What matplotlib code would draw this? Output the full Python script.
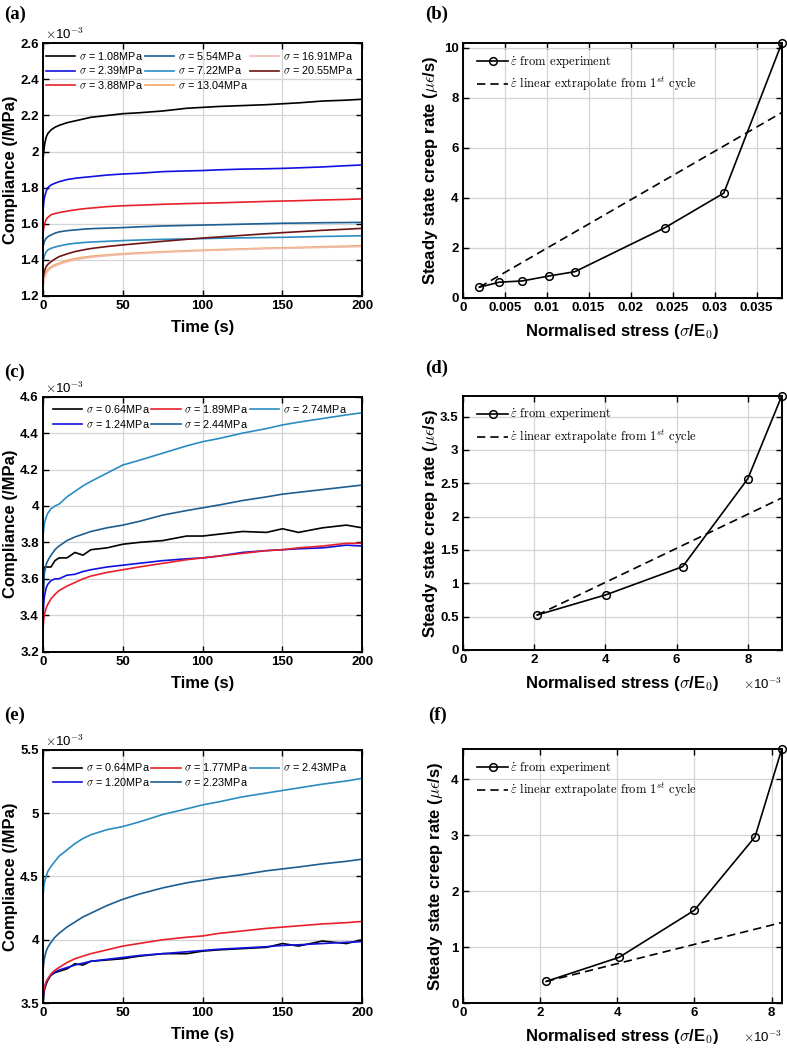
import matplotlib
matplotlib.use("Agg")
import matplotlib.pyplot as plt
from matplotlib.ticker import FuncFormatter
import numpy as np

plt.rcParams['font.family'] = ['Liberation Sans', 'DejaVu Sans']
plt.rcParams['mathtext.fontset'] = 'cm'

# ---------------- data ----------------
# time samples (s) shared by the compliance curves
t = [0, 0.5, 1, 2, 3, 5, 7.5, 10, 15, 20, 25, 30, 40, 50, 60, 75, 90, 100,
     110, 125, 140, 150, 160, 175, 190, 200]

# panel (a) compliance, x1e-3 /MPa
a_labels = ['1.08', '2.39', '3.88', '5.54', '7.22', '13.04', '16.91', '20.55']
a_colors = ['#000000', '#1010e0', '#e8202a', '#1c5e92', '#2b8cc0',
            '#f0a860', '#f0bcae', '#6e1414']
a_1_08 = [1.96, 2.00, 2.04, 2.08, 2.10, 2.12, 2.135, 2.145, 2.16, 2.17, 2.18, 2.19, 2.20,
          2.21, 2.215, 2.225, 2.24, 2.245, 2.25, 2.255, 2.26, 2.265, 2.27, 2.28, 2.285, 2.29]
a_2_39 = [1.67, 1.72, 1.75, 1.78, 1.80, 1.815, 1.825, 1.833, 1.845, 1.852, 1.857, 1.861, 1.87,
          1.876, 1.88, 1.889, 1.893, 1.895, 1.899, 1.903, 1.905, 1.907, 1.91, 1.915, 1.922, 1.926]
a_3_88 = [1.55, 1.58, 1.60, 1.625, 1.635, 1.65, 1.657, 1.662, 1.67, 1.677, 1.683, 1.687, 1.695,
          1.70, 1.703, 1.708, 1.712, 1.714, 1.716, 1.72, 1.724, 1.726, 1.728, 1.732, 1.735, 1.738]
a_5_54 = [1.47, 1.49, 1.505, 1.52, 1.528, 1.538, 1.548, 1.555, 1.562, 1.566, 1.57, 1.573, 1.576,
          1.579, 1.583, 1.588, 1.591, 1.593, 1.595, 1.598, 1.601, 1.603, 1.604, 1.606, 1.607, 1.608]
a_7_22 = [1.39, 1.41, 1.425, 1.445, 1.455, 1.464, 1.471, 1.477, 1.486, 1.492, 1.496, 1.499, 1.503,
          1.507, 1.51, 1.514, 1.516, 1.518, 1.52, 1.522, 1.524, 1.525, 1.527, 1.53, 1.532, 1.534]
a_13_04 = [1.265, 1.29, 1.31, 1.335, 1.347, 1.362, 1.373, 1.381, 1.397, 1.407, 1.414, 1.42, 1.428,
           1.434, 1.439, 1.445, 1.451, 1.454, 1.457, 1.461, 1.465, 1.467, 1.469, 1.473, 1.476, 1.479]
a_16_91 = [1.25, 1.28, 1.30, 1.325, 1.338, 1.354, 1.366, 1.375, 1.39, 1.40, 1.408, 1.414, 1.423,
           1.43, 1.435, 1.442, 1.448, 1.451, 1.454, 1.458, 1.462, 1.464, 1.466, 1.469, 1.472, 1.474]
a_20_55 = [1.29, 1.32, 1.34, 1.363, 1.375, 1.39, 1.405, 1.418, 1.433, 1.446, 1.455, 1.463, 1.474,
           1.483, 1.491, 1.503, 1.514, 1.521, 1.527, 1.536, 1.545, 1.551, 1.556, 1.564, 1.57, 1.575]

# panel (c)
c_labels = ['0.64', '1.24', '1.89', '2.44', '2.74']
c_colors = ['#000000', '#1010e0', '#e8202a', '#1c5e92', '#2b8cc0']
c_0_64 = [3.45, 3.60, 3.665, 3.665, 3.665, 3.665, 3.70, 3.715, 3.715, 3.745, 3.73, 3.76, 3.77,
          3.79, 3.80, 3.81, 3.835, 3.835, 3.845, 3.86, 3.855, 3.875, 3.855, 3.88, 3.895, 3.88]
c_1_24 = [3.38, 3.47, 3.51, 3.55, 3.57, 3.59, 3.60, 3.60, 3.62, 3.625, 3.64, 3.65, 3.665,
          3.675, 3.685, 3.70, 3.71, 3.715, 3.725, 3.745, 3.755, 3.76, 3.765, 3.77, 3.785, 3.78]
c_1_89 = [3.32, 3.38, 3.41, 3.44, 3.46, 3.49, 3.515, 3.535, 3.56, 3.58, 3.60, 3.615, 3.635,
          3.65, 3.665, 3.685, 3.705, 3.715, 3.725, 3.74, 3.755, 3.76, 3.77, 3.78, 3.795, 3.795]
c_2_44 = [3.50, 3.60, 3.64, 3.68, 3.70, 3.73, 3.76, 3.78, 3.81, 3.83, 3.845, 3.86, 3.88,
          3.895, 3.915, 3.95, 3.975, 3.99, 4.005, 4.03, 4.05, 4.065, 4.075, 4.09, 4.105, 4.115]
c_2_74 = [3.83, 3.88, 3.91, 3.94, 3.96, 3.985, 4.00, 4.01, 4.05, 4.08, 4.11, 4.135, 4.18,
          4.225, 4.25, 4.29, 4.33, 4.353, 4.37, 4.40, 4.425, 4.445, 4.46, 4.48, 4.50, 4.512]

# panel (e)
e_labels = ['0.64', '1.20', '1.77', '2.23', '2.43']
e_colors = ['#000000', '#1010e0', '#e8202a', '#1c5e92', '#2b8cc0']
e_0_64 = [3.50, 3.57, 3.61, 3.65, 3.68, 3.72, 3.74, 3.75, 3.77, 3.81, 3.80, 3.83, 3.84,
          3.85, 3.87, 3.89, 3.89, 3.91, 3.92, 3.93, 3.94, 3.97, 3.95, 3.99, 3.97, 4.00]
e_1_20 = [3.50, 3.58, 3.62, 3.66, 3.69, 3.72, 3.745, 3.76, 3.78, 3.80, 3.815, 3.83, 3.845,
          3.86, 3.875, 3.89, 3.905, 3.915, 3.925, 3.935, 3.945, 3.955, 3.96, 3.97, 3.98, 3.985]
e_1_77 = [3.55, 3.60, 3.63, 3.67, 3.69, 3.73, 3.76, 3.78, 3.82, 3.85, 3.87, 3.89, 3.92,
          3.95, 3.97, 4.00, 4.02, 4.03, 4.05, 4.07, 4.09, 4.10, 4.11, 4.125, 4.135, 4.145]
e_2_23 = [3.75, 3.82, 3.86, 3.91, 3.94, 3.98, 4.02, 4.05, 4.10, 4.14, 4.18, 4.21, 4.27,
          4.32, 4.36, 4.41, 4.45, 4.47, 4.49, 4.515, 4.545, 4.56, 4.575, 4.60, 4.62, 4.637]
e_2_43 = [4.35, 4.42, 4.46, 4.50, 4.54, 4.58, 4.62, 4.66, 4.71, 4.76, 4.80, 4.83, 4.87,
          4.895, 4.93, 4.99, 5.035, 5.066, 5.09, 5.13, 5.16, 5.18, 5.20, 5.23, 5.255, 5.276]

# panels (b), (d), (f): normalised stress vs steady state creep rate
b_stress = [0.00198, 0.00436, 0.0071, 0.0103, 0.01337, 0.0241, 0.0311, 0.038]
b_rate = [0.42, 0.62, 0.67, 0.87, 1.04, 2.80, 4.18, 10.17]
b_ext_stress = [0.00198, 0.038]
b_ext_rate = [0.42, 7.40]

d_stress = [2.09e-3, 4.03e-3, 6.17e-3, 8.00e-3, 8.95e-3]
d_rate = [0.525, 0.83, 1.25, 2.57, 3.81]
d_ext_stress = [2.09e-3, 8.95e-3]
d_ext_rate = [0.525, 2.28]

f_stress = [2.16e-3, 4.05e-3, 6.00e-3, 7.57e-3, 8.26e-3]
f_rate = [0.39, 0.82, 1.66, 2.97, 4.53]
f_ext_stress = [2.16e-3, 8.26e-3]
f_ext_rate = [0.39, 1.44]

# ---------------- figure ----------------
W, H = 787, 1052
fig = plt.figure(figsize=(W / 100, H / 100), dpi=100)


def add_ax(x0, x1, y0, y1):
    return fig.add_axes([x0 / W, 1 - y1 / H, (x1 - x0) / W, (y1 - y0) / H])


def style(ax):
    ax.grid(True, color='#d4d4d4', lw=0.9)
    ax.set_axisbelow(True)
    ax.tick_params(direction='in', top=True, right=True, length=4, width=1,
                   labelsize=9.5, pad=3)
    for s in ax.spines.values():
        s.set_linewidth(1.4)
    plt.setp(ax.get_xticklabels() + ax.get_yticklabels(), fontweight='bold')


milli = FuncFormatter(lambda v, p: f'{v * 1e3:g}')
plain = FuncFormatter(lambda v, p: f'{v:g}')


def compliance_panel(ax, curves, labels, colors, ylo, yhi, ystep, leg_anchor, ylab_x):
    tt = np.array(t)
    for vals, lab, col in zip(curves, labels, colors):
        ax.plot(tt, np.array(vals) * 1e-3, color=col, lw=1.2,
                label=r'$\sigma$ = ' + lab + 'MPa')
    ax.set_xlim(0, 200)
    ax.set_ylim(ylo * 1e-3, yhi * 1e-3)
    ax.set_xticks([0, 50, 100, 150, 200])
    ax.set_yticks(np.arange(ylo, yhi + ystep / 2, ystep) * 1e-3)
    ax.yaxis.set_major_formatter(milli)
    ax.xaxis.set_major_formatter(plain)
    style(ax)
    ax.set_xlabel('Time (s)', fontsize=12, fontweight='bold')
    ax.set_ylabel('Compliance (/MPa)', fontsize=12, fontweight='bold')
    ax.xaxis.set_label_coords(0.5, -0.095)
    ax.yaxis.set_label_coords(ylab_x, 0.5)
    ax.text(0.005, 1.004, r'$\times$10$^{-3}$', transform=ax.transAxes,
            fontsize=9.5, ha='left', va='bottom')
    ax.legend(loc='upper left', bbox_to_anchor=leg_anchor, ncol=3, frameon=False,
              fontsize=7.8, handlelength=2.7, handletextpad=0.35, columnspacing=0.15,
              labelspacing=0.25, borderpad=0, borderaxespad=0)


def rate_panel(ax, xs, ys, exs, eys, xmax, ymax, xticks, yticks, xfmt, ylab_x, offset):
    ax.plot(xs, ys, '-o', color='black', lw=1.2, ms=5.5, mfc='none', mew=1.1, clip_on=False,
            label=r'$\dot{\varepsilon}$ from experiment', zorder=3)
    ax.plot(exs, eys, '--', color='black', lw=1.2, dashes=(5, 3),
            label=r'$\dot{\varepsilon}$ linear extrapolate from 1$^{st}$ cycle')
    ax.set_xlim(0, xmax)
    ax.set_ylim(0, ymax)
    ax.set_xticks(xticks)
    ax.set_yticks(yticks)
    ax.xaxis.set_major_formatter(xfmt)
    ax.yaxis.set_major_formatter(plain)
    style(ax)
    ax.set_xlabel(r'Normalised stress ($\sigma$/E$_\mathbf{0}$)', fontsize=12,
                  fontweight='bold')
    ax.set_ylabel(r'Steady state creep rate ($\mu\epsilon$/s)', fontsize=12,
                  fontweight='bold')
    ax.xaxis.set_label_coords(0.5, -0.095)
    ax.yaxis.set_label_coords(ylab_x, 0.5)
    if offset:
        ax.text(1.0, -0.135, r'$\times$10$^{-3}$', transform=ax.transAxes,
                fontsize=9.5, ha='right', va='center')
    ax.legend(loc='upper left', bbox_to_anchor=(0.045, 0.955), frameon=False,
              prop={'family': 'cmr10', 'size': 9}, handlelength=2.5,
              handletextpad=0.15, labelspacing=0.35, borderpad=0, borderaxespad=0)


LX0, LX1 = 43, 362.3
RX0, RX1 = 462.7, 781.7

ax_a = add_ax(LX0, LX1, 43.3, 296)
compliance_panel(ax_a, [a_1_08, a_2_39, a_3_88, a_5_54, a_7_22, a_13_04, a_16_91, a_20_55],
                 a_labels, a_colors, 1.2, 2.6, 0.2, (0.01, 0.975), -0.079)

ax_c = add_ax(LX0, LX1, 396.7, 651.7)
compliance_panel(ax_c, [c_0_64, c_1_24, c_1_89, c_2_44, c_2_74],
                 c_labels, c_colors, 3.2, 4.6, 0.2, (0.03, 0.975), -0.079)

ax_e = add_ax(LX0, LX1, 750, 1003)
compliance_panel(ax_e, [e_0_64, e_1_20, e_1_77, e_2_23, e_2_43],
                 e_labels, e_colors, 3.5, 5.5, 0.5, (0.03, 0.955), -0.079)

ax_b = add_ax(RX0, RX1, 43.3, 297.7)
rate_panel(ax_b, b_stress, b_rate, b_ext_stress, b_ext_rate, 0.038, 10.17,
           np.arange(0, 0.0351, 0.005), [0, 2, 4, 6, 8, 10], plain, -0.07, False)

ax_d = add_ax(RX0, RX1, 396, 650)
rate_panel(ax_d, d_stress, d_rate, d_ext_stress, d_ext_rate, 8.95e-3, 3.81,
           [0, 2e-3, 4e-3, 6e-3, 8e-3], [0, 0.5, 1, 1.5, 2, 2.5, 3, 3.5], milli, -0.07, True)

ax_f = add_ax(RX0, RX1, 749.3, 1003.3)
rate_panel(ax_f, f_stress, f_rate, f_ext_stress, f_ext_rate, 8.26e-3, 4.53,
           [0, 2e-3, 4e-3, 6e-3, 8e-3], [0, 1, 2, 3, 4], milli, -0.055, True)

# panel letters
for lab, px, py in [('(a)', 4, 14), ('(b)', 425, 14), ('(c)', 4, 372),
                    ('(d)', 425, 368), ('(e)', 4, 715), ('(f)', 428, 715)]:
    fig.text(px / W, 1 - py / H, lab, family='Liberation Serif', fontweight='bold',
             fontsize=13.5, ha='left', va='center')

fig.savefig('out.png', dpi=100)
